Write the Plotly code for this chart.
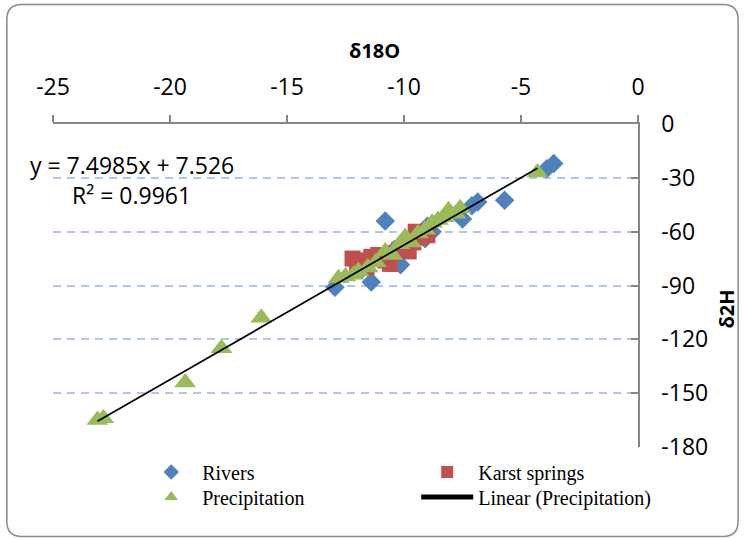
import plotly.graph_objects as go

# ---- data ----
rivers_x = [-3.6, -3.9, -5.7, -6.85, -7.1, -7.5, -10.8, -9.0, -8.8, -9.1, -10.4, -10.15, -11.8, -11.4, -12.95]
rivers_y = [-22, -25, -42.5, -43.5, -45.5, -53, -54, -57, -60, -64, -70, -78.5, -81, -88, -91]

karst_x = [-12.2, -12.0, -11.7, -11.4, -11.1, -10.8, -10.5, -10.2, -9.9, -9.6, -9.3, -9.0, -9.5, -11.6, -10.6, -9.8]
karst_y = [-75, -78, -76, -74, -73, -76, -72, -70, -68, -66, -63, -62, -60, -80, -78, -71]

precip_x = [-23.1, -22.85, -19.35, -17.8, -16.1, -12.8, -12.5, -12.15, -11.95, -11.55, -11.2, -10.8,
            -10.5, -10.2, -9.95, -9.7, -9.4, -9.1, -8.8, -8.55, -8.3, -8.1, -7.8, -7.6, -4.3]
precip_y = [-165, -164, -144, -125, -108, -86, -85, -84, -82, -80, -77, -71,
            -73, -67, -63, -66, -61, -59, -55, -53.5, -52, -48, -50, -47, -27]

slope, intercept, r2 = 7.4985, 7.526, 0.9961
x_ticks = [-25, -20, -15, -10, -5, 0]
y_ticks = [0, -30, -60, -90, -120, -150, -180]

# ---- layout geometry (pixels) ----
W, H = 744, 538
L, R, T, B = 52.7, 638.3, 124, 447
pw, ph = R - L, B - T


def px(x):
    return (x - L) / pw


def py(y):
    return (B - y) / ph


CAL = "Open Sans"
SER = "Liberation Serif"

fit_x = [min(precip_x), max(precip_x)]
fit_y = [slope * v + intercept for v in fit_x]

fig = go.Figure()
fig.add_trace(go.Scatter(x=rivers_x, y=rivers_y, mode="markers", name="Rivers", legend="legend",
                         marker=dict(symbol="diamond", size=15, color="#4F81BD")))
fig.add_trace(go.Scatter(x=karst_x, y=karst_y, mode="markers", name="Karst springs", legend="legend",
                         marker=dict(symbol="square", size=16, color="#C0504D")))
fig.add_trace(go.Scatter(x=precip_x, y=precip_y, mode="markers", name="Precipitation", legend="legend2",
                         marker=dict(symbol="triangle-up", size=19, color="#9BBB59")))
fig.add_trace(go.Scatter(x=fit_x, y=fit_y, mode="lines", name="Linear (Precipitation)", legend="legend2",
                         line=dict(color="black", width=1.75)))

# rounded chart border
rx, ry = 15 / pw, 15 / ph
x0, x1 = px(6.5), px(738.5)
y0, y1 = py(536.5), py(4.5)
path = (f"M{x0+rx},{y1} L{x1-rx},{y1} Q{x1},{y1} {x1},{y1-ry} "
        f"L{x1},{y0+ry} Q{x1},{y0} {x1-rx},{y0} L{x0+rx},{y0} "
        f"Q{x0},{y0} {x0},{y0+ry} L{x0},{y1-ry} Q{x0},{y1} {x0+rx},{y1} Z")

legend_common = dict(orientation="h", xanchor="left", yanchor="middle",
                     entrywidth=209, entrywidthmode="pixels", itemwidth=52,
                     itemsizing="constant",
                     font=dict(family=SER, size=20, color="black"), bgcolor="rgba(0,0,0,0)")

fig.update_layout(
    width=W, height=H,
    margin=dict(l=L, r=W - R, t=T, b=H - B, autoexpand=False),
    paper_bgcolor="white", plot_bgcolor="white",
    font=dict(family=CAL, size=23, color="black"),
    shapes=[dict(type="path", path=path, xref="paper", yref="paper",
                 line=dict(color="#8a8a8a", width=1.5), layer="below")],
    xaxis=dict(range=[-25, 0], side="top", tickvals=x_ticks, ticktext=[str(v) for v in x_ticks],
               ticks="outside", ticklen=7,
               tickcolor="#868686", tickwidth=1.5, showline=True, linecolor="#868686",
               linewidth=1.5, showgrid=False, zeroline=False, ticklabelstandoff=11,
               tickfont=dict(family=CAL, size=23, color="black")),
    yaxis=dict(range=[-180, 0], side="right", tickvals=y_ticks, ticktext=[str(v) for v in y_ticks],
               ticks="inside", ticklen=7,
               tickcolor="#868686", tickwidth=1.5, showline=True, linecolor="#868686",
               linewidth=1.5, showgrid=True, gridcolor="#b0c6ea", gridwidth=1.5,
               griddash="8px,6px", zeroline=False, ticklabelstandoff=17,
               tickfont=dict(family=CAL, size=23, color="black")),
    showlegend=True,
    legend=dict(x=px(140), y=py(472), **legend_common),
    legend2=dict(x=px(140), y=py(497), **legend_common),
    annotations=[
        dict(text="<b>δ18O</b>", x=px(375), y=py(50), xref="paper", yref="paper",
             xanchor="center", yanchor="middle",
             showarrow=False, font=dict(family=CAL, size=20)),
        dict(text="<b>δ2H</b>", x=px(726), y=py(309), xref="paper", yref="paper",
             xanchor="center", yanchor="middle",
             showarrow=False, textangle=-90, font=dict(family=CAL, size=20)),
        dict(text=f"y = {slope}x + {intercept}", x=px(131.5), y=py(165), xref="paper",
             yref="paper", xanchor="center", yanchor="middle",
             showarrow=False, font=dict(family=CAL, size=23)),
        dict(text=f"R² = {r2}", x=px(131.5), y=py(195), xref="paper", yref="paper",
             xanchor="center", yanchor="middle",
             showarrow=False, font=dict(family=CAL, size=23)),
    ],
)

fig.write_html("out.html", config={"displayModeBar": False},
               post_script="document.body.style.margin='0px';")
